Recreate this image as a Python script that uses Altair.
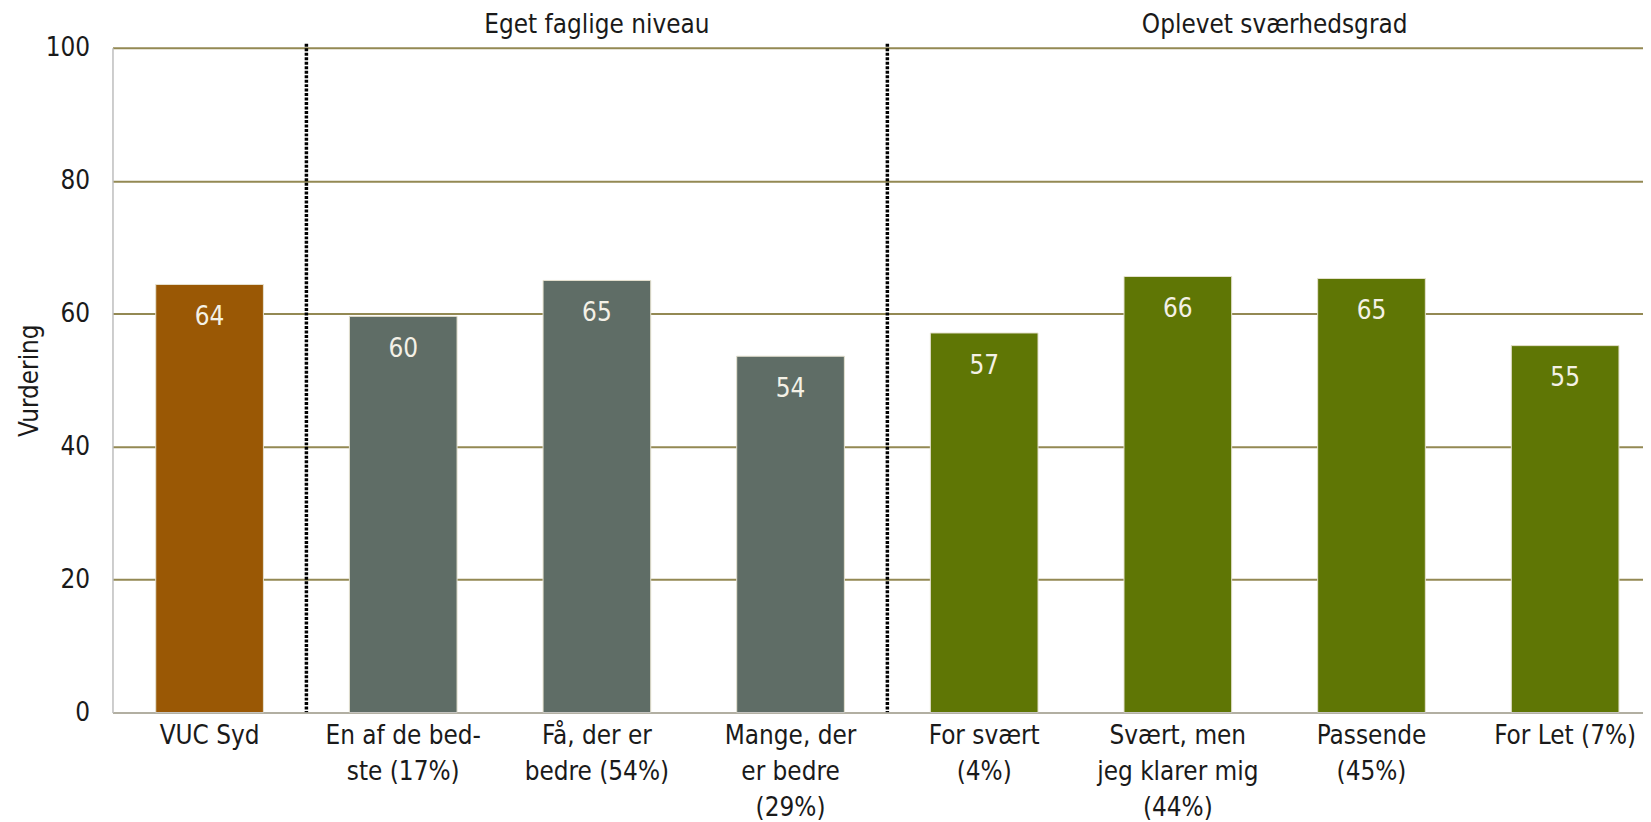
import altair as alt
import pandas as pd

categories = [
    "VUC Syd",
    "En af de bed-\nste (17%)",
    "Få, der er\nbedre (54%)",
    "Mange, der\ner bedre\n(29%)",
    "For svært\n(4%)",
    "Svært, men\njeg klarer mig\n(44%)",
    "Passende\n(45%)",
    "For Let (7%)",
]
values = [64.4, 59.6, 65.0, 53.6, 57.1, 65.6, 65.3, 55.2]
value_labels = ["64", "60", "65", "54", "57", "66", "65", "55"]
groups = ["VUC Syd"] + ["Eget faglige niveau"] * 3 + ["Oplevet sværhedsgrad"] * 4
group_names = ["VUC Syd", "Eget faglige niveau", "Oplevet sværhedsgrad"]
group_colors = ["#9A5805", "#5F6D66", "#5F7605"]
separators = ["En af de bed-\nste (17%)", "For svært\n(4%)"]
y_ticks = [0, 20, 40, 60, 80, 100]

FONT = "DejaVu Sans Condensed, DejaVu Sans"

df = pd.DataFrame({"cat": categories, "value": values, "label": value_labels, "group": groups})
sep_df = pd.DataFrame({"cat": separators})
t1_df = pd.DataFrame({"cat": [categories[2]], "title": ["Eget faglige niveau"]})
t2_df = pd.DataFrame({"cat": [categories[6]], "title": ["Oplevet sværhedsgrad"]})

xscale = alt.Scale(domain=categories, paddingInner=0.444, paddingOuter=0.1737, align=0.643, round=False)
HALF_STEP = -97.3

x_enc = alt.X(
    "cat:N",
    sort=categories,
    scale=xscale,
    axis=alt.Axis(
        title=None,
        labelAngle=0,
        labelExpr="split(datum.label, '\\n')",
        labelFont=FONT,
        labelFontSize=26,
        labelColor="#1a1a1a",
        labelLineHeight=36,
        labelPadding=10,
        ticks=False,
        tickSize=0,
        domainColor="#bdbdbd",
        domainWidth=1.5,
        zindex=1,
        labelBaseline="top",
    ),
)

bars = alt.Chart(df).mark_bar(stroke="#e6e2d0", strokeWidth=1).encode(
    x=x_enc,
    y=alt.Y(
        "value:Q",
        scale=alt.Scale(domain=[0, 100], nice=False),
        axis=alt.Axis(
            title="Vurdering",
            values=y_ticks,
            labelFont=FONT,
            labelFontSize=26,
            labelColor="#1a1a1a",
            labelPadding=23,
            ticks=False,
            tickSize=0,
            domainColor="#bdbdbd",
            domainWidth=1.5,
            gridColor="#938953",
            gridWidth=2,
            titleFont=FONT,
            titleFontSize=26,
            titleFontWeight="normal",
            titleColor="#1a1a1a",
            titleAngle=270,
            titleX=-83,
            titleY=334,
            titleAlign="center",
            titleBaseline="middle",
        ),
    ),
    color=alt.Color("group:N", scale=alt.Scale(domain=group_names, range=group_colors), legend=None),
)

texts = alt.Chart(df).mark_text(
    font=FONT, fontSize=26, color="#f4f1e6", baseline="middle", align="center", dy=33
).encode(x=alt.X("cat:N", sort=categories, scale=xscale), y="value:Q", text="label:N")

rules = alt.Chart(sep_df).mark_rule(
    color="#000000", strokeWidth=3.5, strokeDash=[3, 1.5], xOffset=HALF_STEP
).encode(x=alt.X("cat:N", sort=categories, scale=xscale), y=alt.value(-4), y2=alt.value(668))

title1 = alt.Chart(t1_df).mark_text(
    font=FONT, fontSize=26, color="#1a1a1a", baseline="middle", align="center"
).encode(x=alt.X("cat:N", sort=categories, scale=xscale), y=alt.value(-23), text="title:N")

title2 = alt.Chart(t2_df).mark_text(
    font=FONT, fontSize=26, color="#1a1a1a", baseline="middle", align="center", xOffset=HALF_STEP
).encode(x=alt.X("cat:N", sort=categories, scale=xscale), y=alt.value(-23), text="title:N")

chart = (
    alt.layer(bars, texts, rules, title1, title2)
    .properties(
        width=1538,
        height=668,
        autosize=alt.AutoSizeParams(type="none"),
        padding={"left": 105, "top": 38, "right": 0, "bottom": 112},
        background="white",
    )
    .configure_view(stroke=None)
)

chart.save("out.html", embed_options={"renderer": "svg", "actions": False})
